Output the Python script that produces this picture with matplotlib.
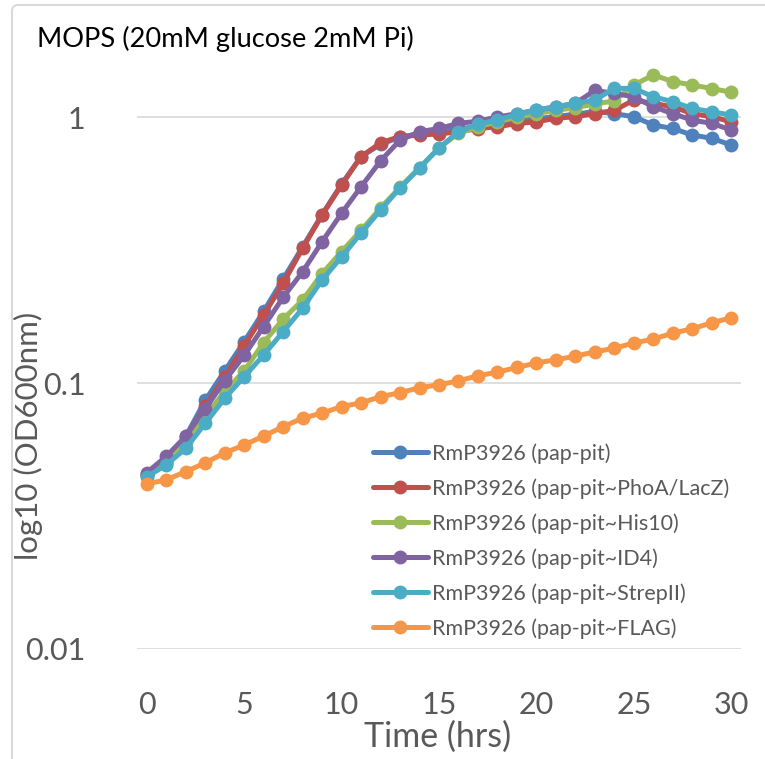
import matplotlib
matplotlib.use("Agg")
import matplotlib.pyplot as plt
from matplotlib.patches import FancyBboxPatch

hours = list(range(31))
series_names = [
    "RmP3926 (pap-pit)",
    "RmP3926 (pap-pit~PhoA/LacZ)",
    "RmP3926 (pap-pit~His10)",
    "RmP3926 (pap-pit~ID4)",
    "RmP3926 (pap-pit~StrepII)",
    "RmP3926 (pap-pit~FLAG)",
]
pap_pit = [0.045, 0.051, 0.063, 0.086, 0.111, 0.143, 0.186, 0.246, 0.325, 0.43, 0.56,
           0.71, 0.79, 0.84, 0.865, 0.88, 0.90, 0.925, 0.945, 0.965, 0.985,
           1.005, 1.025, 1.05, 1.03, 1.003, 0.933, 0.906, 0.856, 0.832, 0.785]
phoa_lacz = [0.045, 0.050, 0.062, 0.082, 0.105, 0.138, 0.180, 0.237, 0.321, 0.428, 0.555,
             0.71, 0.80, 0.845, 0.855, 0.865, 0.88, 0.905, 0.92, 0.945, 0.96,
             0.99, 1.003, 1.03, 1.06, 1.158, 1.126, 1.093, 1.03, 1.003, 0.96]
his10 = [0.045, 0.050, 0.060, 0.075, 0.093, 0.111, 0.142, 0.174, 0.205, 0.258, 0.312,
         0.375, 0.455, 0.545, 0.645, 0.765, 0.87, 0.92, 0.96, 1.0, 1.03,
         1.06, 1.085, 1.12, 1.15, 1.32, 1.44, 1.36, 1.32, 1.28, 1.24]
id4 = [0.046, 0.053, 0.063, 0.080, 0.102, 0.127, 0.163, 0.210, 0.262, 0.340, 0.435,
       0.547, 0.684, 0.819, 0.881, 0.906, 0.947, 0.965, 1.0, 1.03, 1.062,
       1.093, 1.126, 1.26, 1.227, 1.192, 1.093, 1.03, 0.974, 0.947, 0.894]
strepii = [0.0444, 0.0492, 0.0568, 0.0705, 0.0876, 0.1056, 0.1274, 0.156, 0.191, 0.244, 0.298,
           0.366, 0.447, 0.541, 0.643, 0.765, 0.881, 0.94, 0.975, 1.025, 1.062,
           1.093, 1.125, 1.159, 1.282, 1.282, 1.192, 1.142, 1.078, 1.047, 1.017]
flag = [0.0417, 0.0433, 0.0464, 0.0501, 0.0546, 0.0585, 0.0632, 0.0685, 0.0738, 0.0771, 0.0815,
        0.0843, 0.0888, 0.092, 0.096, 0.0985, 0.1019, 0.1065, 0.1099, 0.1144, 0.119,
        0.1223, 0.1262, 0.131, 0.1352, 0.1414, 0.1463, 0.154, 0.16, 0.1685, 0.176]
all_series = [pap_pit, phoa_lacz, his10, id4, strepii, flag]
colors = ["#4F81BD", "#C0504D", "#9BBB59", "#8064A2", "#4BACC6", "#F79646"]
x_ticks = [0, 5, 10, 15, 20, 25, 30]
y_ticks = [0.01, 0.1, 1]
y_tick_labels = ["0.01", "0.1", "1"]

W, H = 765, 759
plt.rcParams['font.family'] = ['Lato', 'DejaVu Sans']
fig = plt.figure(figsize=(W / 100, H / 100), dpi=100)

def fx(px):
    return px / W

def fy(py):
    return 1 - py / H

# outer chart border (only top and left visible in the crop)
border = FancyBboxPatch((fx(12), fy(H + 20)), fx(W + 20) - fx(12), fy(5) - fy(H + 20),
                        boxstyle="round,pad=0,rounding_size=0.008",
                        transform=fig.transFigure, fill=False,
                        edgecolor="#D9D9D9", linewidth=1.5, clip_on=False)
fig.patches.append(border)

left, right, top, bottom = 137, 741, 37, 649
ax = fig.add_axes([fx(left), fy(bottom), fx(right) - fx(left), fy(top) - fy(bottom)])
ax.set_yscale('log')
ax.set_ylim(0.01, 2)
ax.set_xlim(-0.5, 30.5)
for s in ax.spines.values():
    s.set_visible(False)
ax.set_yticks(y_ticks)
ax.set_yticklabels(y_tick_labels)
ax.set_xticks(x_ticks)
ax.minorticks_off()
ax.tick_params(axis='both', length=0, labelsize=22, colors="#595959")
ax.tick_params(axis='y', pad=37)
ax.tick_params(axis='x', pad=30)
for yv in y_ticks:
    ax.axhline(yv, color="#D9D9D9", linewidth=1.2, zorder=0)

for name, vals, c in zip(series_names, all_series, colors):
    ax.plot(hours, vals, color=c, linewidth=3.6, marker='o', markersize=10,
            markeredgewidth=0, label=name, clip_on=False, solid_capstyle='round')

leg = ax.legend(loc='upper left', bbox_to_anchor=(fx(373), fy(443)),
                bbox_transform=fig.transFigure, frameon=False, fontsize=15.5,
                handlelength=2.55, handletextpad=0.2, labelspacing=0.67,
                borderpad=0, borderaxespad=0)
for t in leg.get_texts():
    t.set_color("#595959")

fig.text(fx(37), fy(47), "MOPS (20mM glucose 2mM Pi)", fontsize=19.6, color="#000000",
         ha='left', va='baseline')
fig.text(fx(438), fy(737), "Time (hrs)", fontsize=24.5, color="#595959",
         ha='center', va='center')
fig.text(fx(28), fy(436), "log10 (OD600nm)", fontsize=22.5, color="#595959",
         ha='center', va='center', rotation=90)

fig.savefig("out.png", dpi=100)
